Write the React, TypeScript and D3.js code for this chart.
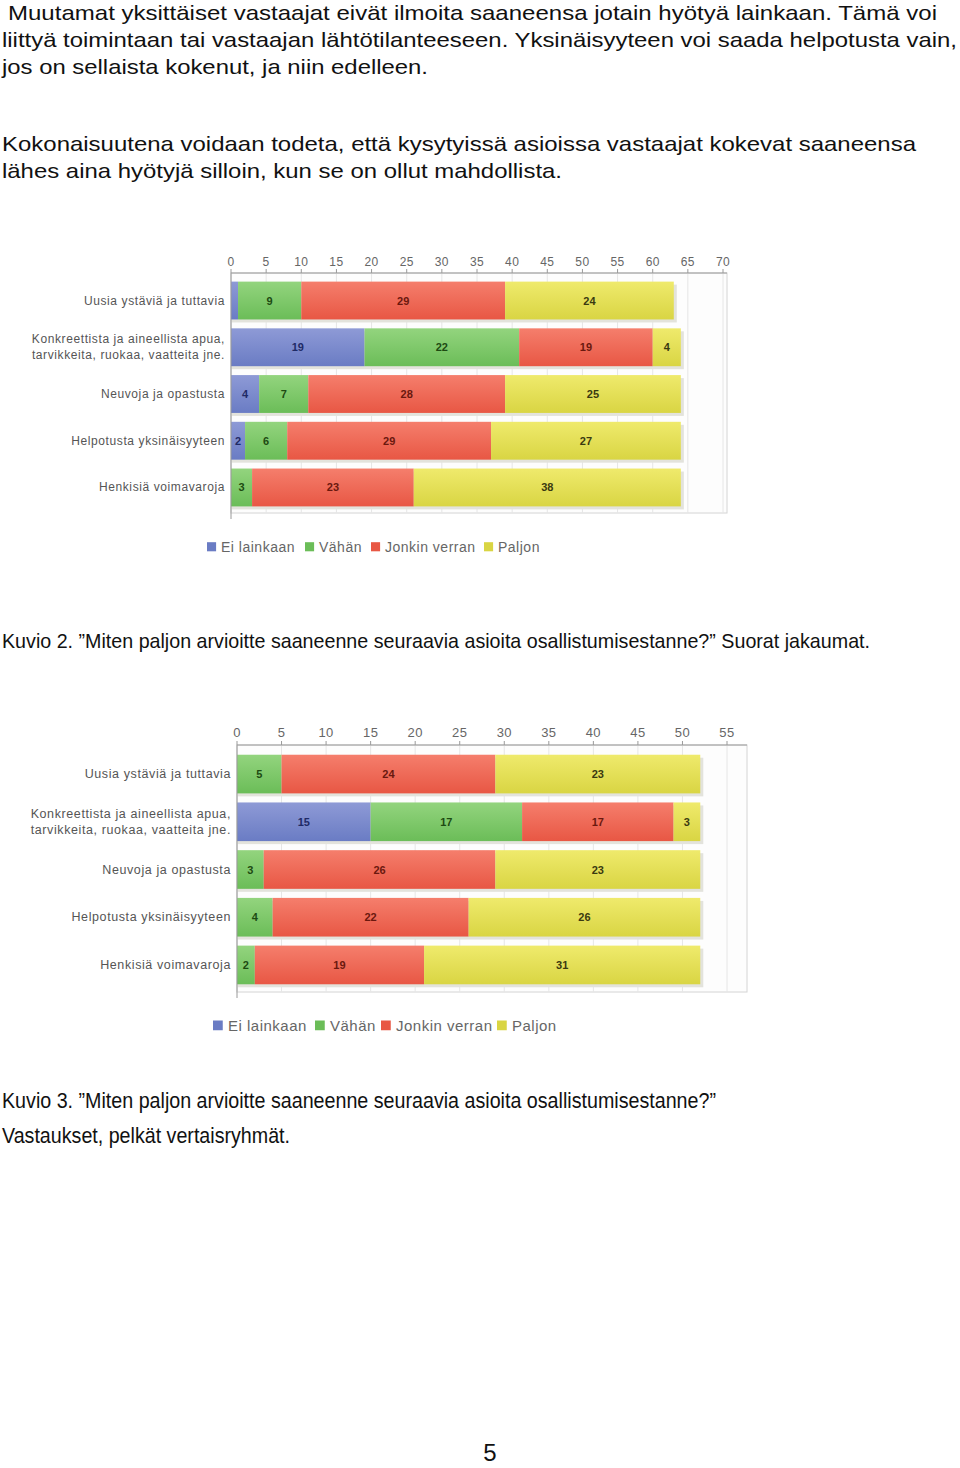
import React from 'react';
import * as d3 from 'd3';

// rivit (kategoriat) ja sarjat
const categories = [
  'Uusia ystäviä ja tuttavia',
  'Konkreettista ja aineellista apua,\ntarvikkeita, ruokaa, vaatteita jne.',
  'Neuvoja ja opastusta',
  'Helpotusta yksinäisyyteen',
  'Henkisiä voimavaroja',
];
const seriesNames = ['Ei lainkaan', 'Vähän', 'Jonkin verran', 'Paljon'];

// Kuvio 2: suorat jakaumat
const k2Ei = [1, 19, 4, 2, 0];
const k2Vahan = [9, 22, 7, 6, 3];
const k2Jonkin = [29, 19, 28, 29, 23];
const k2Paljon = [24, 4, 25, 27, 38];
const k2Ticks = [0, 5, 10, 15, 20, 25, 30, 35, 40, 45, 50, 55, 60, 65, 70];

// Kuvio 3: pelkät vertaisryhmät
const k3Ei = [0, 15, 0, 0, 0];
const k3Vahan = [5, 17, 3, 4, 2];
const k3Jonkin = [24, 17, 26, 22, 19];
const k3Paljon = [23, 3, 23, 26, 31];
const k3Ticks = [0, 5, 10, 15, 20, 25, 30, 35, 40, 45, 50, 55];

const colorTop = ['#8e9ad6', '#93d47e', '#f57e6c', '#efea6c'];
const colorBottom = ['#6a7cc4', '#6bbd58', '#e85744', '#d9d543'];
const labelColors = ['#1f2a66', '#1d4a12', '#6a180e', '#3a3a10'];

const chartFont = '"Liberation Sans", Arial, sans-serif';

type ChartProps = {
  id: string;
  ei: number[];
  vahan: number[];
  jonkin: number[];
  paljon: number[];
  ticks: number[];
  x0: number;
  x1: number;
  frameRight: number;
  top: number;
  bottom: number;
  bandTop: number;
  bandBottom: number;
  labelX: number;
  tickY: number;
  tickSize: number;
  catSize: number;
  legendY: number;
  legendX: number[];
  legendSize: number;
};

function StackedChart(p: ChartProps) {
  const rows = categories.map((c, i) => ({
    cat: c,
    s0: p.ei[i],
    s1: p.vahan[i],
    s2: p.jonkin[i],
    s3: p.paljon[i],
  }));
  const keys = ['s0', 's1', 's2', 's3'];
  const stacked = d3.stack<any>().keys(keys)(rows);

  const tMax = p.ticks[p.ticks.length - 1];
  const x = d3.scaleLinear().domain([0, tMax]).range([p.x0, p.x1]);
  const y = d3
    .scaleBand<string>()
    .domain(categories)
    .range([p.bandTop, p.bandBottom])
    .paddingInner(0.19)
    .paddingOuter(0.12);
  const bw = y.bandwidth();

  return (
    <g fontFamily={chartFont}>
      <defs>
        {keys.map((k, i) => (
          <linearGradient key={k} id={`${p.id}-g${i}`} x1="0" y1="0" x2="0" y2="1">
            <stop offset="0%" stopColor={colorTop[i]} />
            <stop offset="100%" stopColor={colorBottom[i]} />
          </linearGradient>
        ))}
      </defs>

      {/* plot frame */}
      <rect x={p.x0} y={p.top} width={p.frameRight - p.x0} height={p.bottom - p.top} fill="#fdfdfd" stroke="#d4d4d4" />
      {p.ticks.map((t) => (
        <line key={t} x1={x(t)} x2={x(t)} y1={p.top} y2={p.bottom} stroke="#e6e6e6" />
      ))}

      {/* bar shadows */}
      {categories.map((c, i) => {
        const total = p.ei[i] + p.vahan[i] + p.jonkin[i] + p.paljon[i];
        return (
          <rect key={c} x={x(0)} y={(y(c) ?? 0) + 3} width={x(total) - x(0) + 3} height={bw} fill="#e3e3dc" />
        );
      })}

      {stacked.map((layer, si) =>
        layer.map((d, ri) =>
          d[1] - d[0] > 0 ? (
            <rect
              key={`${si}-${ri}`}
              x={x(d[0])}
              y={y(d.data.cat)}
              width={x(d[1]) - x(d[0])}
              height={bw}
              fill={`url(#${p.id}-g${si})`}
            />
          ) : null
        )
      )}

      {/* values */}
      {stacked.map((layer, si) =>
        layer.map((d, ri) => {
          const v = d[1] - d[0];
          if (v < 2) return null;
          return (
            <text
              key={`t${si}-${ri}`}
              x={(x(d[0]) + x(d[1])) / 2}
              y={(y(d.data.cat) ?? 0) + bw / 2 + 4}
              textAnchor="middle"
              fontSize={11}
              fontWeight="bold"
              fill={labelColors[si]}
            >
              {v}
            </text>
          );
        })
      )}

      {/* axes */}
      <line x1={p.x0} x2={p.frameRight} y1={p.top} y2={p.top} stroke="#9a9a9a" />
      <line x1={p.x0} x2={p.x0} y1={p.top} y2={p.bottom + 6} stroke="#9a9a9a" />
      {p.ticks.map((t) => (
        <g key={`tk${t}`}>
          <line x1={x(t)} x2={x(t)} y1={p.top - 4} y2={p.top} stroke="#9a9a9a" />
          <text x={x(t)} y={p.tickY} textAnchor="middle" fontSize={p.tickSize} fill="#666" letterSpacing={0.4}>
            {t}
          </text>
        </g>
      ))}

      {/* category labels */}
      {categories.map((c) => {
        const lines = c.split('\n');
        const cy = (y(c) ?? 0) + bw / 2;
        return lines.map((ln, li) => (
          <text
            key={`${c}-${li}`}
            x={p.labelX}
            y={cy + 4 + (li - (lines.length - 1) / 2) * 16}
            textAnchor="end"
            fontSize={p.catSize}
            fill="#555"
            letterSpacing={0.6}
          >
            {ln}
          </text>
        ));
      })}

      {/* legend */}
      {seriesNames.map((n, i) => (
        <g key={n}>
          <rect
            x={p.legendX[i]}
            y={p.legendY - p.legendSize * 0.7}
            width={p.legendSize * 0.65}
            height={p.legendSize * 0.65}
            fill={colorBottom[i]}
          />
          <text
            x={p.legendX[i] + p.legendSize * 1.0}
            y={p.legendY}
            fontSize={p.legendSize}
            fill="#666"
            letterSpacing={0.5}
          >
            {n}
          </text>
        </g>
      ))}
    </g>
  );
}

const bodyFont = '"Liberation Sans", Arial, Helvetica, sans-serif';
const narrowFont = '"Liberation Sans Narrow", "Arial Narrow", "Liberation Sans", sans-serif';

export default function App() {
  return (
    <svg
      width={960}
      height={1468}
      style={{ position: 'absolute', left: 0, top: 0, background: '#fff' }}
    >
      <g fontFamily={bodyFont} fontSize={21} fill="#111">
        <text x={8} y={20} textLength={929} lengthAdjust="spacingAndGlyphs">
          Muutamat yksittäiset vastaajat eivät ilmoita saaneensa jotain hyötyä lainkaan. Tämä voi
        </text>
        <text x={2} y={47} textLength={955} lengthAdjust="spacingAndGlyphs">
          liittyä toimintaan tai vastaajan lähtötilanteeseen. Yksinäisyyteen voi saada helpotusta vain,
        </text>
        <text x={2} y={74} textLength={426} lengthAdjust="spacingAndGlyphs">
          jos on sellaista kokenut, ja niin edelleen.
        </text>
        <text x={2} y={151} textLength={914} lengthAdjust="spacingAndGlyphs">
          Kokonaisuutena voidaan todeta, että kysytyissä asioissa vastaajat kokevat saaneensa
        </text>
        <text x={2} y={178} textLength={560} lengthAdjust="spacingAndGlyphs">
          lähes aina hyötyjä silloin, kun se on ollut mahdollista.
        </text>
      </g>

      <StackedChart
        id="k2"
        ei={k2Ei}
        vahan={k2Vahan}
        jonkin={k2Jonkin}
        paljon={k2Paljon}
        ticks={k2Ticks}
        x0={231}
        x1={723}
        frameRight={727}
        top={273}
        bottom={513}
        bandTop={276}
        bandBottom={512}
        labelX={225}
        tickY={266}
        tickSize={12}
        catSize={12}
        legendY={552}
        legendX={[207, 305, 371, 484]}
        legendSize={14}
      />

      <text x={2} y={648} fontFamily={narrowFont} fontSize={21} fill="#111" textLength={868} lengthAdjust="spacingAndGlyphs">
        Kuvio 2. ”Miten paljon arvioitte saaneenne seuraavia asioita osallistumisestanne?” Suorat jakaumat.
      </text>

      <StackedChart
        id="k3"
        ei={k3Ei}
        vahan={k3Vahan}
        jonkin={k3Jonkin}
        paljon={k3Paljon}
        ticks={k3Ticks}
        x0={237}
        x1={727}
        frameRight={747}
        top={745}
        bottom={992}
        bandTop={749}
        bandBottom={990}
        labelX={231}
        tickY={737}
        tickSize={13}
        catSize={12.5}
        legendY={1031}
        legendX={[213, 315, 381, 497]}
        legendSize={15}
      />

      <g fontFamily={narrowFont} fontSize={22} fill="#111">
        <text x={2} y={1108} textLength={714} lengthAdjust="spacingAndGlyphs">
          Kuvio 3. ”Miten paljon arvioitte saaneenne seuraavia asioita osallistumisestanne?”
        </text>
        <text x={2} y={1143} textLength={288} lengthAdjust="spacingAndGlyphs">
          Vastaukset, pelkät vertaisryhmät.
        </text>
      </g>

      <text x={490} y={1461} textAnchor="middle" fontFamily={bodyFont} fontSize={24} fill="#111">
        5
      </text>
    </svg>
  );
}
